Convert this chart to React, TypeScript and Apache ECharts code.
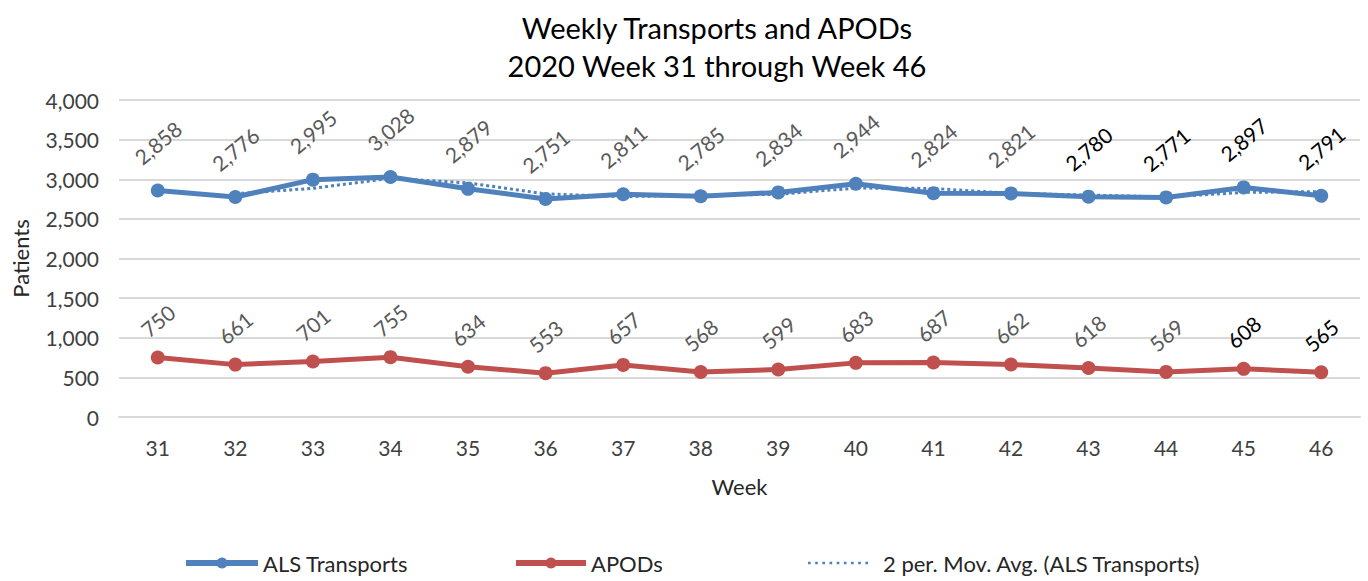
import React, { useEffect, useRef } from "react";
import * as echarts from "echarts";

const weeks = ["31", "32", "33", "34", "35", "36", "37", "38", "39", "40", "41", "42", "43", "44", "45", "46"];
const alsTransports = [2858, 2776, 2995, 3028, 2879, 2751, 2811, 2785, 2834, 2944, 2824, 2821, 2780, 2771, 2897, 2791];
const apods = [750, 661, 701, 755, 634, 553, 657, 568, 599, 683, 687, 662, 618, 569, 608, 565];
const movAvg = [null, 2817, 2885.5, 3011.5, 2953.5, 2815, 2781, 2798, 2809.5, 2889, 2884, 2822.5, 2800.5, 2775.5, 2834, 2844];
const alsLabelColors = ["#595959", "#595959", "#595959", "#595959", "#595959", "#595959", "#595959", "#595959", "#595959", "#595959", "#595959", "#595959", "#000000", "#000000", "#000000", "#000000"];
const apodLabelColors = ["#595959", "#595959", "#595959", "#595959", "#595959", "#595959", "#595959", "#595959", "#595959", "#595959", "#595959", "#595959", "#595959", "#595959", "#000000", "#000000"];
const yTicks = { min: 0, max: 4000, interval: 500 };

const FONT = "Lato";
const BLUE = "#4f81bd";
const RED = "#c0504d";

const fmt = (v: number) => v.toLocaleString("en-US");

// dotted legend icon: small squares in a row
const dots: string[] = [];
for (let i = 0; i < 9; i++) dots.push(`M${i * 7},0h2.6v2.6h-2.6z`);
const dottedIcon = "path://" + dots.join(" ");

export default function App() {
  const ref = useRef<HTMLDivElement>(null);
  useEffect(() => {
    if (!ref.current) return;
    const chart = echarts.init(ref.current, null, { renderer: "svg" });
    const labelBase = {
      show: true,
      position: "top",
      rotate: 40,
      align: "center",
      verticalAlign: "middle",
      fontFamily: FONT,
      fontSize: 21,
      formatter: (p: any) => fmt(p.value),
    };
    const legendText = { fontFamily: FONT, fontSize: 22, color: "#262626" };
    chart.setOption({
      animation: false,
      textStyle: { fontFamily: FONT },
      title: {
        text: "Weekly Transports and APODs\n2020 Week 31 through Week 46",
        left: 712,
        textAlign: "center",
        top: 3,
        textStyle: { fontFamily: FONT, fontSize: 29, fontWeight: "normal", color: "#000", lineHeight: 38 },
      },
      grid: { left: 119, right: 8, top: 100, bottom: 164, containLabel: false },
      legend: [
        {
          data: ["ALS Transports"],
          left: 178,
          top: 547,
          itemWidth: 72,
          itemHeight: 14,
          lineStyle: { width: 6 },
          textStyle: legendText,
        },
        {
          data: ["APODs"],
          left: 508,
          top: 547,
          itemWidth: 70,
          itemHeight: 14,
          lineStyle: { width: 6 },
          textStyle: legendText,
        },
        {
          data: [{ name: "2 per. Mov. Avg. (ALS Transports)", icon: dottedIcon }],
          left: 803,
          top: 547,
          itemWidth: 60,
          itemHeight: 3,
          itemGap: 0,
          textStyle: { ...legendText, padding: [0, 0, 0, 10] },
        },
      ],
      xAxis: {
        type: "category",
        data: weeks,
        boundaryGap: true,
        name: "Week",
        nameLocation: "middle",
        nameGap: 58,
        nameTextStyle: { fontFamily: FONT, fontSize: 22, color: "#262626" },
        axisLine: { lineStyle: { color: "#d9d9d9", width: 2 } },
        axisTick: { show: false },
        axisLabel: { fontFamily: FONT, fontSize: 21, color: "#404040", margin: 20 },
      },
      yAxis: {
        type: "value",
        min: yTicks.min,
        max: yTicks.max,
        interval: yTicks.interval,
        name: "Patients",
        nameLocation: "middle",
        nameGap: 88,
        nameRotate: 90,
        nameTextStyle: { fontFamily: FONT, fontSize: 22, color: "#262626" },
        axisLine: { show: false },
        axisTick: { show: false },
        axisLabel: { fontFamily: FONT, fontSize: 21, color: "#404040", margin: 20, formatter: (v: number) => fmt(v) },
        splitLine: { lineStyle: { color: "#d9d9d9", width: 2 } },
      },
      series: [
        {
          name: "2 per. Mov. Avg. (ALS Transports)",
          type: "line",
          data: movAvg,
          symbol: "none",
          z: 1,
          lineStyle: { color: BLUE, width: 3, type: "dotted" },
          itemStyle: { color: BLUE },
        },
        {
          name: "ALS Transports",
          type: "line",
          data: alsTransports.map((v, i) => ({ value: v, label: { color: alsLabelColors[i] } })),
          symbol: "circle",
          symbolSize: 14,
          z: 3,
          lineStyle: { color: BLUE, width: 5 },
          itemStyle: { color: BLUE },
          label: { ...labelBase, distance: 41 },
        },
        {
          name: "APODs",
          type: "line",
          data: apods.map((v, i) => ({ value: v, label: { color: apodLabelColors[i] } })),
          symbol: "circle",
          symbolSize: 14,
          z: 3,
          lineStyle: { color: RED, width: 5 },
          itemStyle: { color: RED },
          label: { ...labelBase, distance: 30 },
        },
      ],
    });
    return () => chart.dispose();
  }, []);
  return <div ref={ref} style={{ width: 1368, height: 581, position: "absolute", left: 0, top: 0 }} />;
}
